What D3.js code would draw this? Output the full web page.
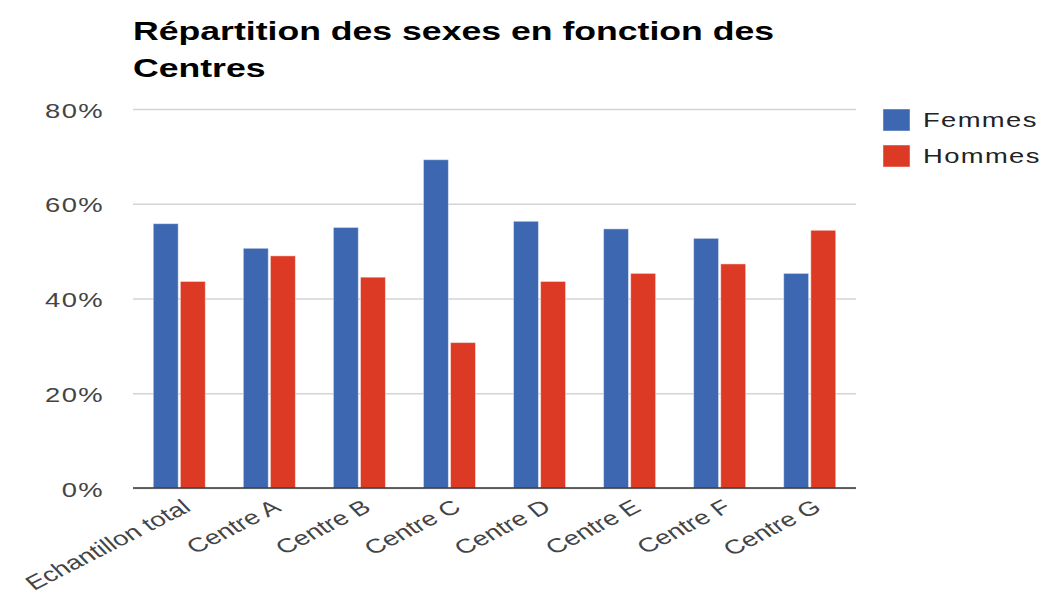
<!DOCTYPE html>
<html>
<head>
<meta charset="utf-8">
<script src="https://cdn.jsdelivr.net/npm/d3@7"></script>
<style>
  body { margin: 0; background: #fff; }
  text { font-family: "Liberation Sans", Arial, sans-serif; }
</style>
</head>
<body>
<div id="chart"></div>
<script>
// chart data
var categories = ["Echantillon total", "Centre A", "Centre B", "Centre C", "Centre D", "Centre E", "Centre F", "Centre G"];
var seriesNames = ["Femmes", "Hommes"];
var femmes = [55.8, 50.6, 55.0, 69.3, 56.3, 54.7, 52.7, 45.3];
var hommes = [43.6, 49.0, 44.5, 30.7, 43.6, 45.3, 47.3, 54.4];
var yTicks = [0, 20, 40, 60, 80];
var colors = ["#3d67b1", "#dc3a24"];

var width = 1041, height = 596;
var margin = {top: 109, right: 185, bottom: 108, left: 133};
var k = 1.37; // horizontal stretch of the text in the original picture

var svg = d3.select("#chart").append("svg")
  .attr("width", width)
  .attr("height", height);

// rows for the grouped bars
var rows = categories.map(function(c, i) {
  return {cat: c, values: [femmes[i], hommes[i]]};
});

var x0 = d3.scaleBand()
  .domain(categories)
  .range([margin.left, width - margin.right])
  .paddingInner(0.422)
  .paddingOuter(0.225);

var x1 = d3.scaleBand()
  .domain(d3.range(seriesNames.length))
  .range([0, x0.bandwidth()])
  .paddingInner(0.08);

var y = d3.scaleLinear()
  .domain([0, 80])
  .range([height - margin.bottom, margin.top]);

// helper: stretched text like the source image
function stretched(sel, tx, ty) {
  return sel.attr("transform", "translate(" + tx + "," + ty + ") scale(" + k + ",1)");
}

// gridlines + y labels
var yAxis = svg.append("g")
  .attr("transform", "translate(" + margin.left + ",0)")
  .call(d3.axisLeft(y).tickValues(yTicks)
    .tickSize(-(width - margin.left - margin.right))
    .tickFormat(function(d) { return d + "%"; }));
yAxis.select(".domain").remove();
yAxis.selectAll(".tick line")
  .attr("stroke", "#d4d4d4")
  .attr("stroke-width", 1.5);
yAxis.selectAll(".tick text")
  .attr("x", null).attr("dy", null)
  .attr("fill", "#444")
  .style("font-size", "20px")
  .style("letter-spacing", "1px")
  .attr("text-anchor", "end")
  .each(function() { stretched(d3.select(this), -29, 8); });

// bars
var groups = svg.append("g").selectAll("g")
  .data(rows)
  .enter().append("g")
  .attr("transform", function(d) { return "translate(" + x0(d.cat) + ",0)"; });

groups.selectAll("rect")
  .data(function(d) { return d.values.map(function(v, i) { return {i: i, v: v}; }); })
  .enter().append("rect")
  .attr("x", function(d) { return x1(d.i); })
  .attr("y", function(d) { return y(d.v); })
  .attr("width", x1.bandwidth())
  .attr("height", function(d) { return y(0) - y(d.v); })
  .attr("fill", function(d) { return colors[d.i]; })
  .attr("stroke", "#fff")
  .attr("stroke-opacity", 0.45)
  .attr("stroke-width", 1);

// baseline
svg.append("line")
  .attr("x1", margin.left).attr("x2", width - margin.right)
  .attr("y1", y(0)).attr("y2", y(0))
  .attr("stroke", "#333")
  .attr("stroke-width", 1.5);

// rotated category labels
svg.append("g").selectAll("text")
  .data(categories)
  .enter().append("text")
  .attr("text-anchor", "end")
  .attr("fill", "#444")
  .style("font-size", "20px")
  .attr("transform", function(d) {
    var cx = x0(d) + x0.bandwidth() / 2 + 13;
    return "translate(" + cx + "," + (y(0) + 22) + ") scale(" + k + ",1) rotate(-35)";
  })
  .text(function(d) { return d; });

// title
var title = ["Répartition des sexes en fonction des", "Centres"];
svg.append("g").selectAll("text")
  .data(title)
  .enter().append("text")
  .style("font-size", "26px")
  .style("font-weight", "bold")
  .attr("fill", "#000")
  .each(function(d, i) { stretched(d3.select(this), 133, 40 + i * 37); })
  .text(function(d) { return d; });

// legend
var legend = svg.append("g").selectAll("g")
  .data(seriesNames)
  .enter().append("g")
  .attr("transform", function(d, i) { return "translate(883," + (109 + i * 36) + ")"; });
legend.append("rect")
  .attr("width", 27).attr("height", 22)
  .attr("fill", function(d, i) { return colors[i]; })
  .attr("stroke", "#fff").attr("stroke-opacity", 0.45);
legend.append("text")
  .attr("fill", "#222")
  .style("font-size", "20px")
  .style("letter-spacing", "1px")
  .each(function() { stretched(d3.select(this), 40, 18); })
  .text(function(d) { return d; });
</script>
</body>
</html>
